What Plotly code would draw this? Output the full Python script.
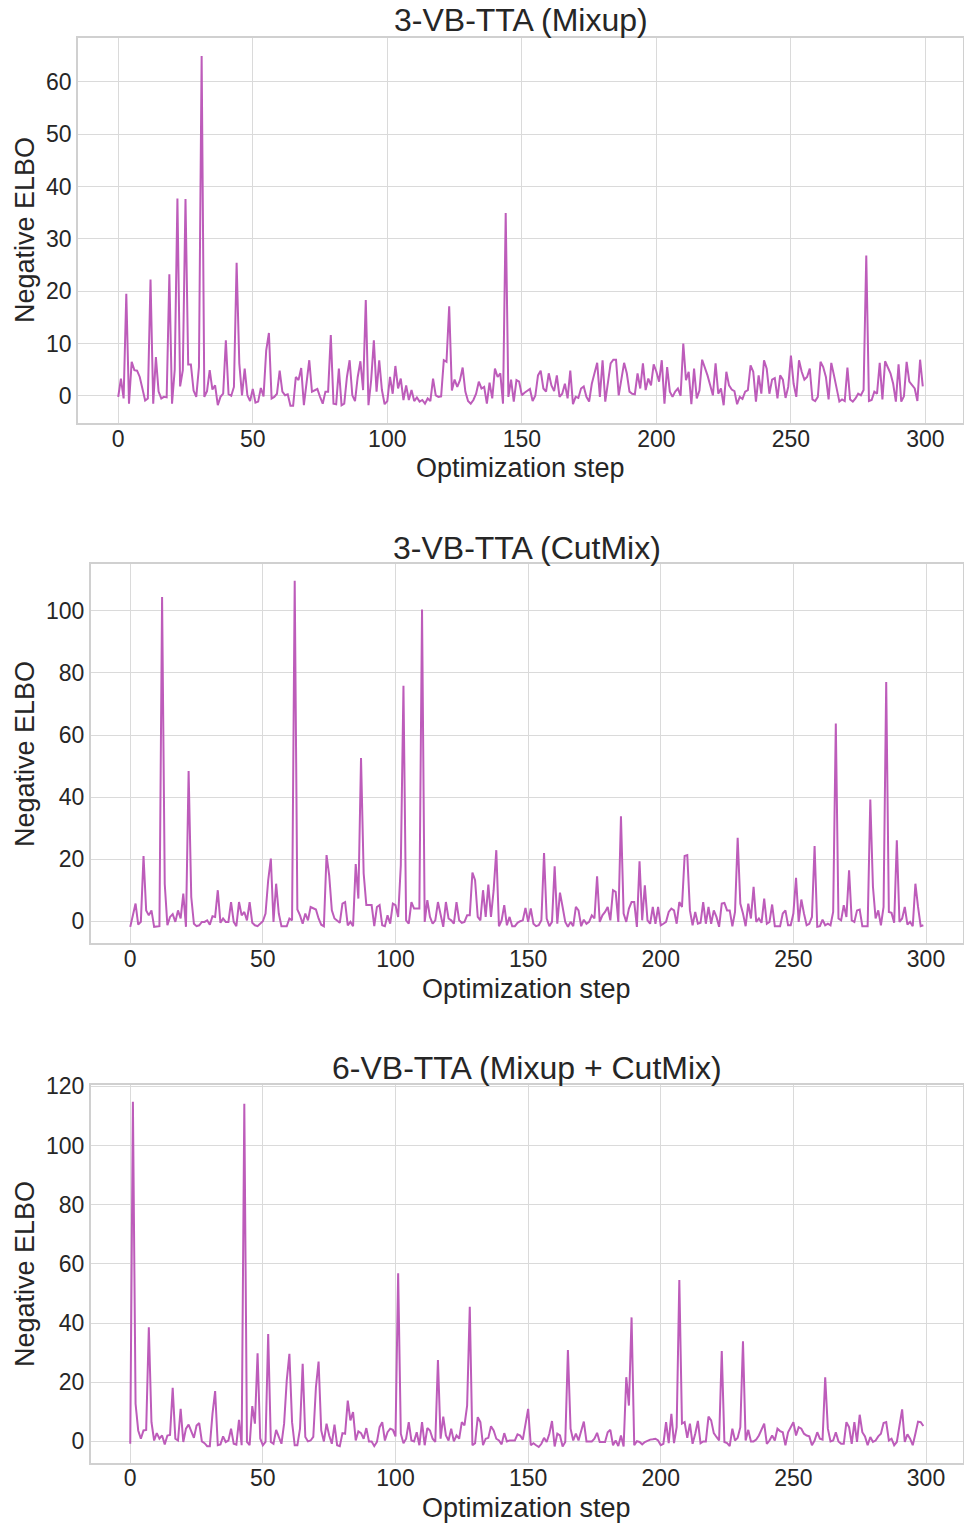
import plotly.graph_objects as go

steps = list(range(300))

titles = ["3-VB-TTA (Mixup)", "3-VB-TTA (CutMix)", "6-VB-TTA (Mixup + CutMix)"]
x_label = "Optimization step"
y_label = "Negative ELBO"
x_ticks = [0, 50, 100, 150, 200, 250, 300]
y_ticks_1 = [0, 10, 20, 30, 40, 50, 60]
y_ticks_2 = [0, 20, 40, 60, 80, 100]
y_ticks_3 = [0, 20, 40, 60, 80, 100, 120]

mixup = [
    -0.2, 3.3, -0.5, 19.5, -1.5, 6.5, 4.9, 4.8, 3.6, 1.5,
    -0.9, -0.5, 22.2, -1.5, 7.4, 0.8, -0.5, -0.2, -0.3, 23.2,
    -1.5, 5.0, 37.7, 1.8, 4.9, 37.6, 6.0, 6.0, 1.0, -0.2,
    5.5, 64.9, -0.2, 0.9, 4.9, 1.2, 2.0, -1.8, -0.2, 0.4,
    10.6, 0.3, 0.0, 1.7, 25.4, 6.2, 0.1, 5.2, 0.1, -1.0,
    1.3, -1.3, -1.1, 1.5, -0.1, 8.7, 12.0, -0.5, -0.2, 0.4,
    4.8, 0.8, 0.1, 0.3, -1.9, -1.9, 3.6, 3.0, 5.3, -1.8,
    2.3, 6.8, 0.8, 1.1, 1.3, -0.2, -1.5, 0.8, 0.8, 11.6,
    -1.5, -1.6, 5.2, -1.8, -1.5, 3.6, 6.8, 0.1, -1.0, 3.6,
    6.6, 1.1, 18.3, -1.8, 3.0, 10.6, 0.8, 6.8, 1.1, -1.6,
    -1.0, 3.6, 0.4, 5.7, 1.4, 3.3, -0.8, 2.0, -0.8, 1.1,
    -1.0, -0.3, -1.1, -0.8, -1.5, -0.5, -1.0, 3.3, 0.1, -0.2,
    -0.1, 6.8, 6.5, 17.1, 1.0, 3.1, 1.7, 3.0, 5.4, 0.8,
    -1.0, -1.5, -0.8, 0.4, 2.7, 1.4, 1.7, -1.5, 2.5, -0.5,
    5.2, 3.6, 4.3, -1.5, 34.9, -0.2, 3.1, -1.1, 3.0, 2.7,
    0.1, 0.6, 1.0, 1.3, -1.0, 0.0, 3.9, 4.8, 1.4, 0.8,
    4.3, 2.0, 0.9, 3.9, -0.2, 0.4, 2.3, -0.5, 4.8, -1.6,
    -0.2, -0.4, 1.4, 1.8, -0.2, -1.1, 2.3, 4.6, 6.3, -0.2,
    6.8, -1.1, 2.3, 6.2, 6.9, 6.9, 0.1, 3.0, 6.3, 4.3,
    0.8, 0.4, 0.3, 4.3, 1.4, 6.2, 1.1, 3.3, 2.0, 6.0,
    4.6, 2.7, 6.8, -1.5, 5.5, 0.8, -0.2, 0.8, 1.4, 0.0,
    10.0, 3.0, 4.6, -1.6, 5.2, -0.5, 1.0, 6.9, 5.5, 3.9,
    2.0, 0.1, 6.2, 0.4, 1.4, -1.8, 4.6, 2.0, 1.2, 0.9,
    -1.6, -0.2, -0.6, 0.8, 1.1, 5.8, 4.6, -1.1, 3.9, 0.4,
    6.8, 5.2, 0.4, 3.1, 3.4, -0.5, 3.9, 3.1, -0.4, 1.7,
    7.7, 2.3, -0.2, 6.8, 4.6, 3.1, 3.6, 5.2, -0.7, -1.0,
    -0.2, 6.5, 5.5, 3.6, -0.7, 6.3, 3.9, 1.7, -1.1, -0.7,
    -1.0, 5.4, -0.7, -1.1, -0.5, 0.4, 0.1, 1.1, 26.8, -1.0,
    -0.8, 0.8, 0.4, 6.3, -0.7, 6.6, 5.5, 4.3, 2.3, -1.1,
    6.0, -1.1, -0.1, 6.5, 2.7, 2.0, 1.4, -1.0, 6.9, 1.8,
]

cutmix = [
    -1.8, 2.5, 5.7, -1.1, -0.2, 21.0, 3.5, 1.9, 3.5, -1.8,
    -1.6, -1.6, 104.5, 12.0, -1.3, 1.4, 2.3, -0.2, 3.5, 0.9,
    8.9, -1.8, 48.4, 7.8, -0.8, -1.6, -1.3, -0.2, -0.2, 0.3,
    -1.1, 1.6, 1.4, 10.0, -0.5, 0.9, -0.2, -0.2, 6.2, -0.2,
    -1.6, 6.2, 1.9, 3.0, 0.3, 6.2, -0.5, -1.3, -1.6, -0.8,
    0.0, 2.5, 13.2, 20.2, -0.2, 12.1, 2.5, -1.6, -1.6, -1.6,
    0.9, 0.3, 109.7, 3.8, 1.9, -0.8, 2.5, 0.3, 4.6, 4.1,
    3.8, 0.9, -1.1, -1.6, 21.3, 14.8, 3.5, 0.9, 0.3, -0.5,
    5.7, 6.2, -1.3, -0.2, -1.6, 18.4, 7.3, 52.6, 15.4, 5.2,
    5.2, 5.2, -1.6, 4.6, 5.2, -1.3, -1.6, 1.9, -0.8, 5.7,
    5.2, 1.4, 18.0, 75.9, 0.3, -0.8, 6.2, 4.1, 4.1, 4.1,
    100.4, -0.2, 6.8, 1.4, -0.8, 0.3, 6.2, 2.5, -1.8, 6.2,
    0.9, 0.3, -0.8, 6.2, 0.3, -0.5, -0.2, 1.9, 1.9, 15.7,
    13.2, 1.4, 0.3, 10.0, 1.4, 11.8, 1.4, 10.0, 22.9, -1.6,
    0.3, 5.2, -1.3, 1.4, -1.6, -1.6, -0.5, 0.0, 0.3, 4.3,
    -0.2, 4.1, -0.8, -1.6, -1.3, 0.3, 22.0, 0.9, -1.6, -0.2,
    17.7, -0.8, 9.2, 4.6, -0.2, -1.8, -0.2, -1.6, 4.6, 3.5,
    -1.6, 0.5, -0.8, -0.2, 1.9, 0.9, 14.5, -0.2, 1.9, 3.0,
    4.6, 0.3, 10.0, 9.5, -0.2, 33.8, 2.5, -0.2, 4.1, 6.2,
    6.2, -1.8, 19.3, 0.3, 11.6, 0.3, -0.8, 4.6, -0.8, 4.6,
    -1.3, -0.8, -0.2, 3.0, 4.1, 3.5, -0.8, 6.2, 4.6, 21.0,
    21.3, 3.5, -1.3, 3.0, -0.8, -0.5, 6.2, -0.8, 4.6, -0.8,
    3.5, 1.4, -1.8, 5.7, 5.9, 3.5, 3.5, -1.6, 3.0, 26.9,
    5.7, 2.5, -1.6, 5.7, 0.9, 11.1, -0.2, 0.9, -0.5, 7.3,
    -0.8, -0.2, 5.4, -1.6, -1.6, -1.6, 2.5, 3.5, -1.3, -1.3,
    2.5, 14.0, -0.2, 7.0, 2.5, -1.3, -0.8, 1.4, 24.2, -1.8,
    -1.6, 0.5, -1.3, -0.8, -1.3, 3.0, 63.7, 0.9, 0.3, 5.2,
    1.4, 16.4, 0.3, -0.2, 3.5, 3.8, -1.6, -1.6, -1.6, 39.2,
    11.1, 0.9, 3.5, -1.3, 4.6, 77.1, 3.0, 2.7, -0.5, 26.1,
    -0.2, 0.9, 4.6, -1.1, -0.2, -1.6, 12.1, 4.6, -1.6, -1.3,
]

mixup_cutmix = [
    -0.8, 114.8, 12.7, 3.7, 0.9, 3.7, 3.9, 38.6, 6.5, 0.3,
    2.8, 0.9, 2.0, -1.0, 2.0, 2.2, 18.1, 0.9, 0.3, 11.0,
    -0.2, 4.3, 5.7, 3.1, 1.2, 5.4, 6.2, 0.0, -0.6, -1.6,
    -1.6, 9.3, 17.0, -1.3, -1.0, 1.7, -0.2, 0.3, 4.3, -0.8,
    -1.1, 7.3, -1.3, 114.1, -0.2, -1.3, 11.9, 6.0, 29.8, 1.0,
    -1.3, -0.2, 36.3, -0.2, -0.8, 3.9, 1.5, -0.8, 6.0, 20.6,
    29.6, 6.5, -1.3, -1.3, 4.3, 26.2, 1.5, 0.0, 0.3, 1.5,
    18.3, 27.0, 3.7, 0.0, 6.0, 2.0, -0.8, 5.7, -1.3, -1.6,
    2.8, 2.6, 13.8, 7.1, 9.9, 0.3, 3.4, 2.8, 0.9, 4.5,
    0.0, 0.0, -1.6, -0.2, 4.8, 6.5, 0.3, 3.1, 4.3, 3.9,
    1.7, 56.8, 2.6, -0.6, 0.9, 6.5, 0.3, 0.0, 3.1, -1.3,
    6.5, -1.3, 4.5, 3.7, 0.9, -0.2, 27.5, 0.9, 8.4, 2.0,
    0.3, 4.3, 0.0, 2.0, 0.9, 6.5, 5.4, 12.1, 45.5, -1.3,
    -0.6, 8.2, 6.5, -1.3, 0.9, 1.2, 5.1, 3.7, 0.9, 0.3,
    -1.0, 2.8, 0.0, 0.3, 0.3, 0.3, 2.4, 2.0, 0.6, 6.0,
    11.0, -1.3, -0.6, -1.3, -1.9, -0.8, 1.2, -0.2, 2.6, 6.9,
    -1.7, 2.6, 2.0, -1.7, -0.2, 30.9, 4.3, 0.3, 2.6, 0.3,
    3.1, 6.7, 0.0, 0.0, 0.0, 0.9, 2.9, -0.2, -0.2, -0.2,
    3.1, 3.9, -1.3, 0.3, -1.6, 2.0, -1.7, 21.7, 12.1, 41.9,
    -1.3, 0.1, -0.2, -1.0, -0.2, 0.3, 0.6, 0.7, 0.9, 0.3,
    -1.3, -0.8, 6.5, -0.6, 9.3, -0.6, 4.8, 54.5, 6.0, 6.5,
    1.2, 6.0, -0.8, 2.6, 6.9, -0.6, 0.0, 0.0, 8.4, 7.1,
    2.8, 1.5, 0.3, 30.5, -0.2, -0.6, -1.6, 4.3, 0.3, 1.2,
    4.8, 33.8, 0.3, 3.9, 0.0, 0.0, 0.6, 2.0, 4.3, 6.0,
    -0.8, 0.3, 2.0, 0.3, 4.3, 3.5, 3.1, -1.3, 3.1, 4.8,
    6.5, 2.0, 4.8, 4.3, 2.6, 2.0, 1.7, -1.3, 0.3, 3.1,
    0.9, 0.6, 21.7, 4.3, 0.0, 0.3, 3.1, 0.0, -0.8, -0.8,
    6.5, 4.8, -0.8, 6.5, -0.2, 9.0, 3.1, 1.7, -1.3, 1.5,
    -0.2, 0.3, 1.7, 2.6, 6.2, 6.5, 0.3, 0.9, -1.3, -0.2,
    6.0, 10.8, -0.2, 2.4, 0.9, -1.3, 2.6, 6.7, 6.5, 5.2,
]

W, H = 964, 1526
LINE = "#BD5CBA"
GRID = "#dadada"
EDGE = "#d0d0d0"
TXT = "#262626"
FONT = "Liberation Sans, Arial, sans-serif"

def py(px):
    return 1 - px / H

panels = [
    dict(data=mixup, yticks=y_ticks_1, yr=[-5.25, 68.3], xd=[78 / W, 963 / W],
         yd=[py(423.3), py(38.3)], title_y=20, xlab_y=468, ylab_y=230),
    dict(data=cutmix, yticks=y_ticks_2, yr=[-7.1, 115.0], xd=[90.6 / W, 963 / W],
         yd=[py(943.3), py(564.3)], title_y=548, xlab_y=989, ylab_y=754),
    dict(data=mixup_cutmix, yticks=y_ticks_3, yr=[-7.3, 120.6], xd=[90.6 / W, 963 / W],
         yd=[py(1463), py(1084.5)], title_y=1068, xlab_y=1508, ylab_y=1274),
]

fig = go.Figure()
annotations = []
for i, p in enumerate(panels):
    sfx = "" if i == 0 else str(i + 1)
    fig.add_trace(go.Scatter(x=steps, y=p["data"], mode="lines",
                             line=dict(color=LINE, width=2),
                             xaxis="x" + sfx, yaxis="y" + sfx, showlegend=False,
                             hoverinfo="skip"))
    fig.layout["xaxis" + sfx] = dict(
        domain=p["xd"], anchor="y" + sfx, range=[-14.95, 313.95], automargin=False,
        tickvals=x_ticks, ticktext=[str(t) for t in x_ticks],
        showgrid=True, gridcolor=GRID, gridwidth=1, zeroline=False,
        showline=True, linecolor=EDGE, linewidth=1.5, mirror=True, ticks="",
        ticklabelstandoff=-6,
        tickfont=dict(size=23, color=TXT, family=FONT))
    fig.layout["yaxis" + sfx] = dict(
        domain=p["yd"], anchor="x" + sfx, range=p["yr"], automargin=False,
        tickvals=p["yticks"], ticktext=[str(t) for t in p["yticks"]],
        showgrid=True, gridcolor=GRID, gridwidth=1, zeroline=False,
        showline=True, linecolor=EDGE, linewidth=1.5, mirror=True, ticks="",
        tickfont=dict(size=23, color=TXT, family=FONT))
    cx = (p["xd"][0] + p["xd"][1]) / 2
    annotations.append(dict(text=titles[i], x=cx, y=py(p["title_y"]), xref="paper", yref="paper",
                            xanchor="center", yanchor="middle", showarrow=False,
                            font=dict(size=32, color=TXT, family=FONT)))
    annotations.append(dict(text=x_label, x=cx, y=py(p["xlab_y"]), xref="paper", yref="paper",
                            xanchor="center", yanchor="middle", showarrow=False,
                            font=dict(size=27, color=TXT, family=FONT)))
    annotations.append(dict(text=y_label, x=25 / W, y=py(p["ylab_y"]), xref="paper", yref="paper",
                            xanchor="center", yanchor="middle", showarrow=False, textangle=-90,
                            font=dict(size=27, color=TXT, family=FONT)))

fig.update_layout(width=W, height=H, margin=dict(l=0, r=0, t=0, b=0, autoexpand=False),
                  paper_bgcolor="white", plot_bgcolor="white",
                  annotations=annotations, font=dict(family=FONT, color=TXT))

fig.write_html("out.html")
